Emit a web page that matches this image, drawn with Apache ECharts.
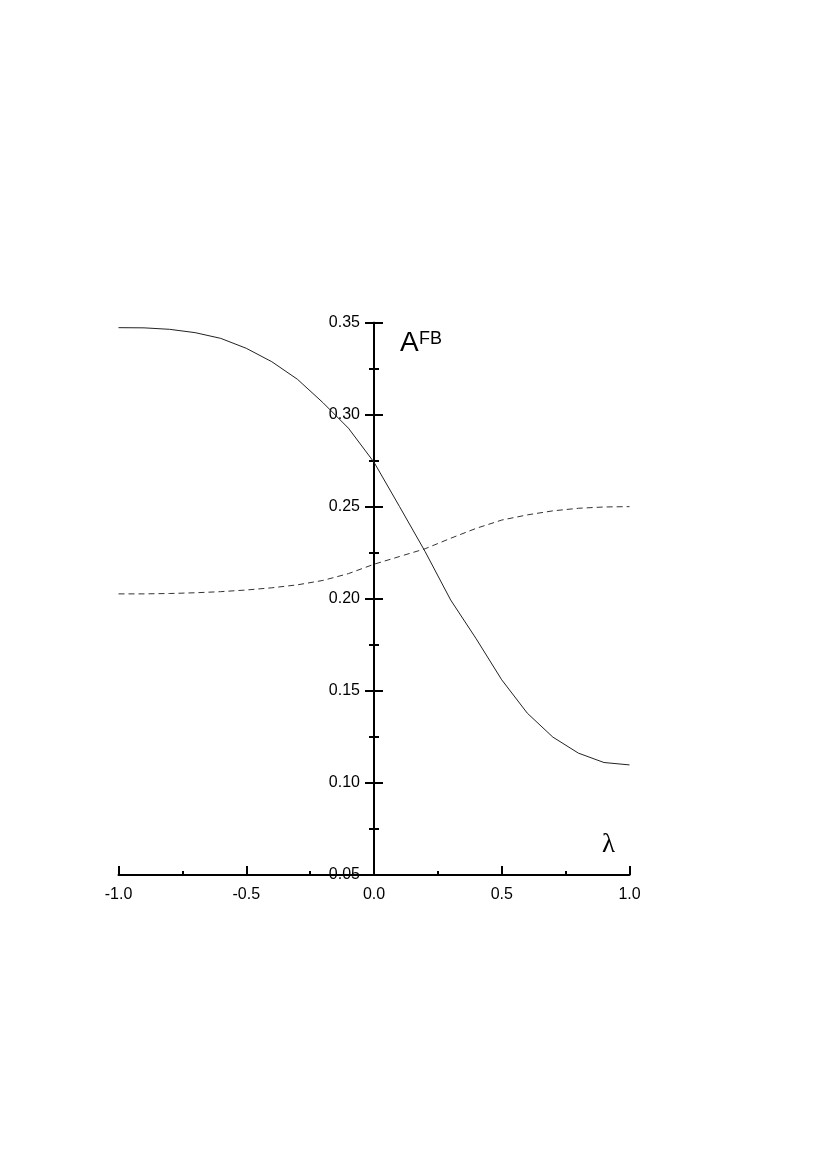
<!DOCTYPE html>
<html>
<head>
<meta charset="utf-8">
<script src="https://cdn.jsdelivr.net/npm/echarts@6/dist/echarts.min.js"></script>
<style>
html,body{margin:0;padding:0;background:#fff;}
#chart{width:817px;height:1167px;}
</style>
</head>
<body>
<div id="chart"></div>
<script>
// Data
var lambdaValues = [-1.0,-0.9,-0.8,-0.7,-0.6,-0.5,-0.4,-0.3,-0.2,-0.1,0.0,0.1,0.2,0.3,0.4,0.5,0.6,0.7,0.8,0.9,1.0];
var solidSeries  = [0.3473,0.3472,0.3464,0.3446,0.3415,0.3361,0.3288,0.3193,0.3066,0.2927,0.2742,0.2501,0.2257,0.1994,0.1783,0.1560,0.1379,0.1249,0.1162,0.1111,0.1098];
var dashedSeries = [0.2027,0.2027,0.2029,0.2033,0.2039,0.2048,0.2060,0.2076,0.2100,0.2137,0.2188,0.2230,0.2272,0.2329,0.2383,0.2428,0.2456,0.2478,0.2492,0.2499,0.2501];
var yAxisTitleMain = 'A';
var yAxisTitleSup = 'FB';
var xAxisTitle = 'λ';

function pairs(xs, ys){ return xs.map(function(x,i){ return [x, ys[i]]; }); }

var chart = echarts.init(document.getElementById('chart'), null, {renderer:'canvas'});
var font = 'Liberation Sans, Arial, Helvetica, sans-serif';
var axisCol = '#000';
var gridLeft = 118.5, gridWidth = 511;
var zeroOffset = -(gridWidth / 2); // place y axes at lambda = 0

chart.setOption({
  animation: false,
  backgroundColor: '#fff',
  grid: { left: gridLeft, right: 817 - gridLeft - gridWidth, top: 322.7, bottom: 292, containLabel: false },
  xAxis: {
    type: 'value', min: -1, max: 1, interval: 0.5,
    axisLine: { show: true, onZero: false, lineStyle: { color: axisCol, width: 2 } },
    axisTick: { show: true, inside: true, length: 9, lineStyle: { color: axisCol, width: 2 } },
    minorTick: { show: true, splitNumber: 2, length: 4, lineStyle: { color: axisCol, width: 2 } },
    splitLine: { show: false },
    axisLabel: { show: true, margin: 12, color: '#000', fontFamily: font, fontSize: 16,
      formatter: function(v){ return v.toFixed(1); } }
  },
  yAxis: [
    {
      type: 'value', min: 0.05, max: 0.35, interval: 0.05, position: 'left', offset: zeroOffset,
      axisLine: { show: true, onZero: false, lineStyle: { color: axisCol, width: 2 } },
      axisTick: { show: true, inside: false, length: 9, lineStyle: { color: axisCol, width: 2 } },
      minorTick: { show: true, splitNumber: 2, length: 5, lineStyle: { color: axisCol, width: 2 } },
      splitLine: { show: false },
      axisLabel: { show: true, margin: 14, color: '#000', fontFamily: font, fontSize: 16,
        formatter: function(v){ return v.toFixed(2); } }
    },
    {
      type: 'value', min: 0.05, max: 0.35, interval: 0.05, position: 'left', offset: zeroOffset,
      axisLine: { show: true, onZero: false, lineStyle: { color: axisCol, width: 2 } },
      axisTick: { show: true, inside: true, length: 9, lineStyle: { color: axisCol, width: 2 } },
      minorTick: { show: true, splitNumber: 2, length: 5, lineStyle: { color: axisCol, width: 2 } },
      splitLine: { show: false },
      axisLabel: { show: false }
    }
  ],
  series: [
    {
      type: 'line', xAxisIndex: 0, yAxisIndex: 0, data: pairs(lambdaValues, solidSeries),
      showSymbol: false, symbol: 'none', smooth: false,
      lineStyle: { color: '#222', width: 1, type: 'solid' }, z: 1
    },
    {
      type: 'line', xAxisIndex: 0, yAxisIndex: 0, data: pairs(lambdaValues, dashedSeries),
      showSymbol: false, symbol: 'none', smooth: false,
      lineStyle: { color: '#333', width: 1, type: [6, 4] }, z: 1
    }
  ],
  graphic: [
    { type: 'text', left: 400, top: 329, z: 10,
      style: { text: yAxisTitleMain, font: '28px ' + font, fill: '#000' } },
    { type: 'text', left: 419, top: 330, z: 10,
      style: { text: yAxisTitleSup, font: '18px ' + font, fill: '#000' } },
    { type: 'text', left: 602, top: 831, z: 10,
      style: { text: xAxisTitle, font: '27px Liberation Serif, DejaVu Serif, serif', fill: '#000' } }
  ]
});
</script>
</body>
</html>
